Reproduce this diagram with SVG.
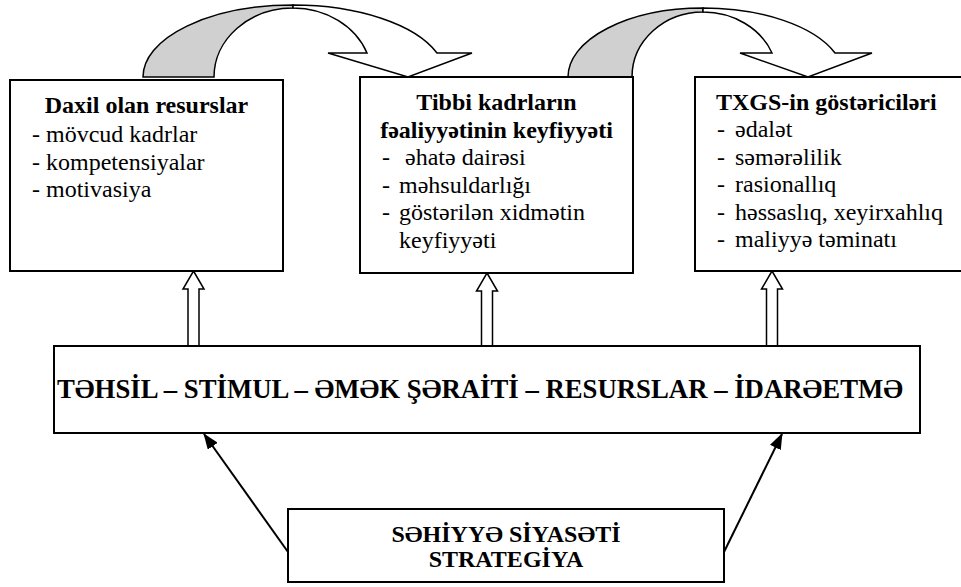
<svg xmlns="http://www.w3.org/2000/svg" width="961" height="587" viewBox="0 0 961 587">
<style>
.box{fill:#fff;stroke:#000;stroke-width:2}
.t{font-family:"Liberation Serif","DejaVu Serif","Times New Roman",serif;font-size:24px;fill:#000}
.b{font-weight:bold}
.c{text-anchor:middle}
.blk{fill:#fff;stroke:#000;stroke-width:1.5;stroke-linejoin:miter}
.gray{fill:#d0d0d0;stroke:#000;stroke-width:1.5}
.thin{fill:none;stroke:#000;stroke-width:2}
</style>
<defs>
<marker id="ah" markerWidth="16" markerHeight="12" refX="15" refY="6" orient="auto" markerUnits="userSpaceOnUse">
<path d="M0,0 L16,6 L0,12 Z" fill="#000"/>
</marker>
</defs>
<g id="connectors">
<!-- curved arrow 1 -->
<path class="gray" d="M143,77 A150,72 0 0 1 293,5 L293,8 A79,69 0 0 0 214,77 Z"/>
<path class="blk" d="M293,5 A152.7,72 0 0 1 437,53 L472,53 L408,77 L328,53 L367,53 A79,69 0 0 0 293,8 Z"/>
<!-- curved arrow 2 -->
<path class="gray" d="M568,77 A135,69 0 0 1 703,8 L703,12 A71,65 0 0 0 632,77 Z"/>
<path class="blk" d="M703,8 A141,69 0 0 1 835,53 L872,53 L808,77 L740,53 L772,53 A74.3,65 0 0 0 703,12 Z"/>
<!-- hollow up arrows -->
<polygon class="blk" points="193.5,271 204,289 199,289 199,346 188,346 188,289 183,289"/>
<polygon class="blk" points="487,273 497.5,291 492.5,291 492.5,346 481.5,346 481.5,291 476.5,291"/>
<polygon class="blk" points="772,271 782.5,289 777.5,289 777.5,346 766.5,346 766.5,289 761.5,289"/>
<!-- thin arrows -->
<line class="thin" x1="288" y1="552" x2="204" y2="434" marker-end="url(#ah)"/>
<line class="thin" x1="724" y1="552" x2="782" y2="434" marker-end="url(#ah)"/>
</g>
<g id="node-daxil">
<rect class="box" x="10" y="80" width="273" height="191"/>
<text class="t b c" x="146.5" y="113">Daxil olan resurslar</text>
<text class="t" x="32" y="142">- mövcud kadrlar</text>
<text class="t" x="32" y="169.5">- kompetensiyalar</text>
<text class="t" x="32" y="197">- motivasiya</text>
</g>
<g id="node-tibbi">
<rect class="box" x="360" y="77" width="273" height="196"/>
<text class="t b c" x="496.5" y="110">Tibbi kadrların</text>
<text class="t b c" x="496.5" y="137.5">fəaliyyətinin keyfiyyəti</text>
<text class="t" x="382" y="165">-</text><text class="t" x="405" y="165">əhatə dairəsi</text>
<text class="t" x="382" y="192.5">-</text><text class="t" x="399" y="192.5">məhsuldarlığı</text>
<text class="t" x="382" y="220">-</text><text class="t" x="399" y="220">göstərilən xidmətin</text>
<text class="t" x="399" y="247.5">keyfiyyəti</text>
</g>
<g id="node-txgs">
<rect class="box" x="695" y="77" width="280" height="194"/>
<text class="t b" x="716" y="110">TXGS-in göstəriciləri</text>
<text class="t" x="717" y="137">-</text><text class="t" x="735" y="137">ədalət</text>
<text class="t" x="717" y="164.5">-</text><text class="t" x="735" y="164.5">səmərəlilik</text>
<text class="t" x="717" y="192">-</text><text class="t" x="735" y="192">rasionallıq</text>
<text class="t" x="717" y="219.5">-</text><text class="t" x="735" y="219.5">həssaslıq, xeyirxahlıq</text>
<text class="t" x="717" y="247">-</text><text class="t" x="735" y="247">maliyyə təminatı</text>
</g>
<g id="node-tehsil">
<rect class="box" x="54" y="346" width="866" height="87"/>
<text class="t b" x="57" y="398" style="font-size:26.5px" textLength="846" lengthAdjust="spacingAndGlyphs">TƏHSİL – STİMUL – ƏMƏK ŞƏRAİTİ – RESURSLAR – İDARƏETMƏ</text>
</g>
<g id="node-sehiyye">
<rect class="box" x="288" y="509" width="436" height="73"/>
<text class="t b c" x="506" y="542">SƏHİYYƏ SİYASƏTİ</text>
<text class="t b c" x="506" y="567">STRATEGİYA</text>
</g>
</svg>
